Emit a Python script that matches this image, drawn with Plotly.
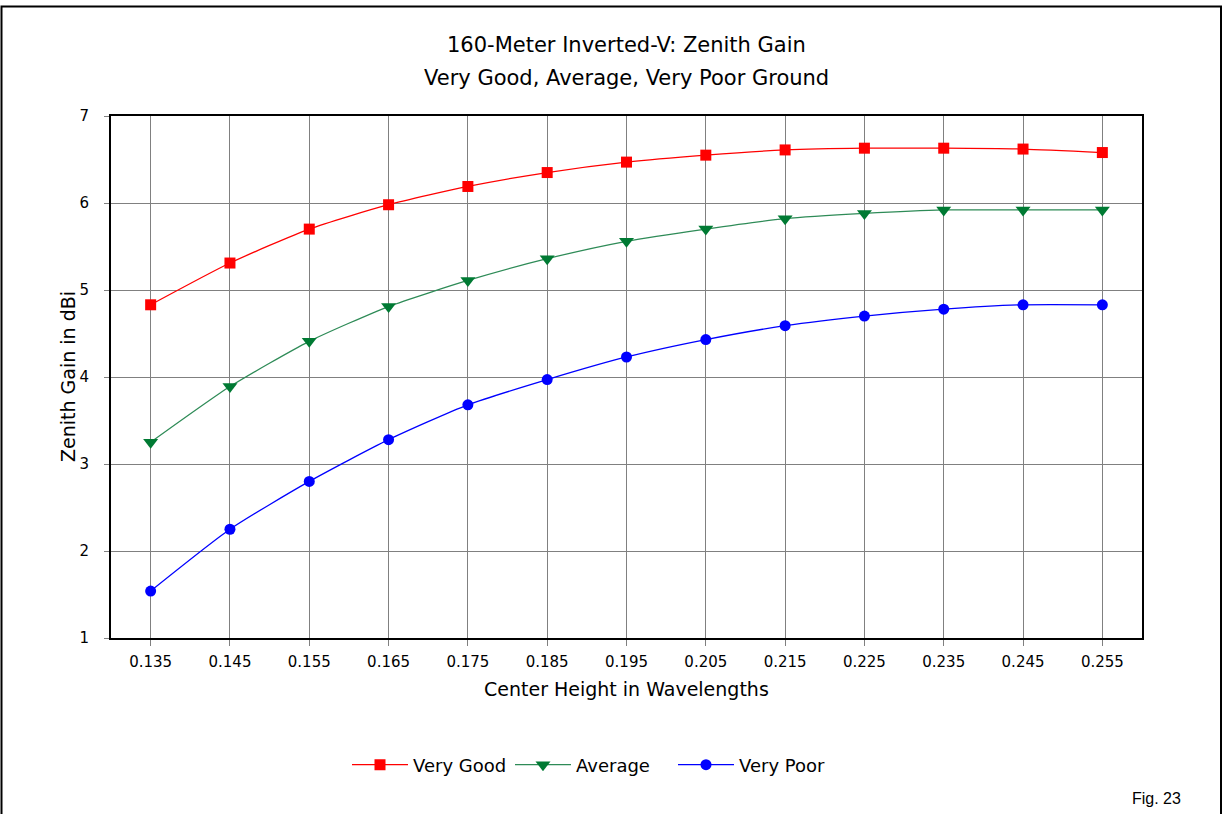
import plotly.graph_objects as go

heights = ["0.135", "0.145", "0.155", "0.165", "0.175", "0.185", "0.195",
           "0.205", "0.215", "0.225", "0.235", "0.245", "0.255"]
very_good = [4.83, 5.31, 5.70, 5.98, 6.19, 6.35, 6.47, 6.55, 6.61, 6.63, 6.63, 6.62, 6.58]
average = [3.25, 3.89, 4.41, 4.81, 5.11, 5.36, 5.56, 5.70, 5.82, 5.88, 5.92, 5.92, 5.92]
very_poor = [1.54, 2.25, 2.80, 3.28, 3.68, 3.97, 4.23, 4.43, 4.59, 4.70, 4.78, 4.83, 4.83]

FONT = "DejaVu Sans, Verdana, sans-serif"
FONT2 = "Liberation Sans, Arial, sans-serif"

fig = go.Figure()
series = [
    ("Very Good", very_good, "#ff0000", "#ff0000", "square", 11),
    ("Average", average, "#2e8b57", "#007a33", "triangle-down", 13),
    ("Very Poor", very_poor, "#0000ff", "#0000ff", "circle", 11),
]
for name, vals, lc, mc, sym, sz in series:
    fig.add_trace(go.Scatter(
        x=heights, y=vals, name=name, mode="lines+markers",
        line=dict(color=lc, width=1.3, shape="spline", smoothing=0.6),
        marker=dict(symbol=sym, size=sz, color=mc, line=dict(width=0)),
    ))

W, H = 1225, 814
L, R, T, B = 111, 1142, 116, 638
pw, ph = R - L, B - T

def px(x):
    return (x - L) / pw

def py(y):
    return (B - y) / ph

fig.update_layout(
    width=W, height=H,
    margin=dict(l=L, r=W - R, t=T, b=H - B),
    paper_bgcolor="white", plot_bgcolor="white",
    font=dict(family=FONT, size=14, color="black"),
    showlegend=True,
    legend=dict(orientation="h", x=px(347), xanchor="left", y=py(765), yanchor="middle",
                font=dict(size=18, family=FONT), entrywidth=92, entrywidthmode="pixels",
                itemwidth=56, tracegroupgap=0, bgcolor="rgba(0,0,0,0)"),
    xaxis=dict(type="category", range=[-0.5, 12.5], showgrid=True, gridcolor="#808080",
               gridwidth=1, showline=True, linecolor="black", linewidth=2, mirror=True,
               ticks="outside", ticklen=6, tickcolor="#808080", ticklabelstandoff=3,
               tickfont=dict(size=15, family=FONT), zeroline=False),
    yaxis=dict(range=[1, 7], dtick=1, showgrid=True, gridcolor="#808080", gridwidth=1,
               showline=True, linecolor="black", linewidth=2, mirror=True,
               ticks="outside", ticklen=5, tickcolor="#808080", ticklabelstandoff=12,
               tickfont=dict(size=15, family=FONT), zeroline=False),
    annotations=[
        dict(text="160-Meter Inverted-V: Zenith Gain", x=0.5, y=py(45), xref="paper", yref="paper",
             showarrow=False, font=dict(size=21, family=FONT), xanchor="center", yanchor="middle"),
        dict(text="Very Good, Average, Very Poor Ground", x=0.5, y=py(78), xref="paper", yref="paper",
             showarrow=False, font=dict(size=21, family=FONT), xanchor="center", yanchor="middle"),
        dict(text="Center Height in Wavelengths", x=0.5, y=py(689), xref="paper", yref="paper",
             showarrow=False, font=dict(size=19, family=FONT), xanchor="center", yanchor="middle"),
        dict(text="Zenith Gain in dBi", x=px(68), y=0.5, xref="paper", yref="paper", textangle=-90,
             showarrow=False, font=dict(size=19, family=FONT), xanchor="center", yanchor="middle"),
        dict(text="Fig. 23", x=px(1156), y=py(798), xref="paper", yref="paper",
             showarrow=False, font=dict(size=16, family=FONT2), xanchor="center", yanchor="middle"),
    ],
    shapes=[
        dict(type="rect", xref="paper", yref="paper", x0=px(1.5), x1=px(1221), y0=py(830), y1=py(6.5),
             line=dict(color="black", width=2), fillcolor="rgba(0,0,0,0)", layer="above"),
    ],
)

fig.write_html("out.html")
